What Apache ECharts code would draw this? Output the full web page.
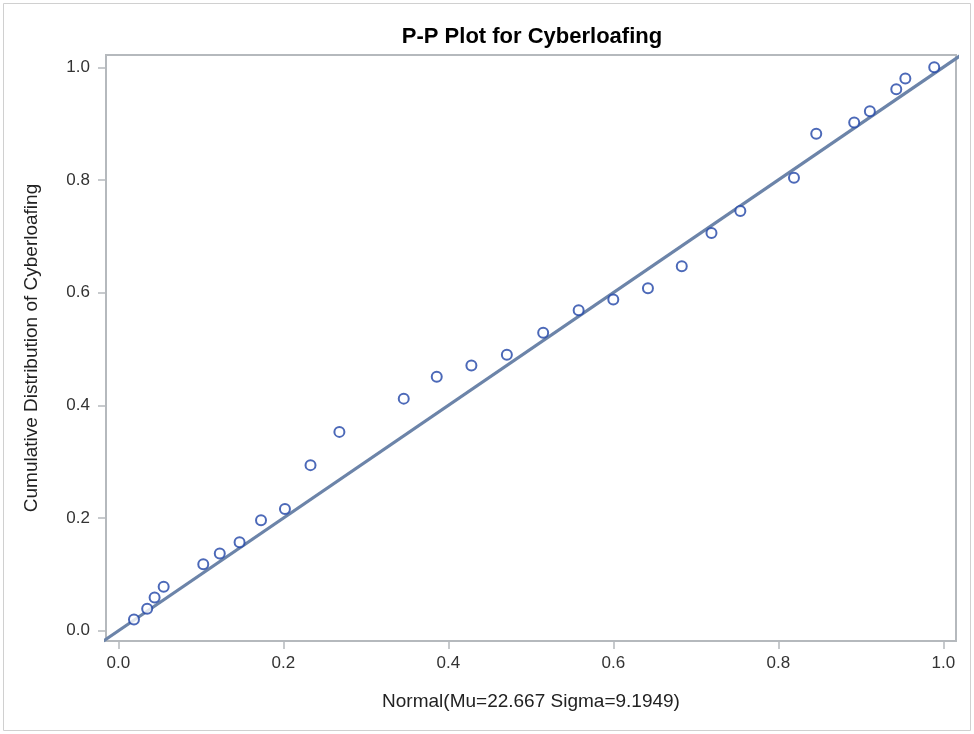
<!DOCTYPE html>
<html>
<head>
<meta charset="utf-8">
<title>P-P Plot for Cyberloafing</title>
<script src="https://cdn.jsdelivr.net/npm/echarts@6/dist/echarts.min.js"></script>
<style>
  html, body { margin: 0; padding: 0; background: #ffffff; }
  #chart { width: 974px; height: 734px; }
</style>
</head>
<body>
<div id="chart"></div>
<script>
// Theoretical normal CDF values (horizontal) and empirical CDF values (vertical)
const normalCdf = [
  0.019, 0.035, 0.044, 0.055, 0.103, 0.123, 0.147, 0.173, 0.202, 0.233,
  0.268, 0.346, 0.386, 0.428, 0.471, 0.515, 0.558, 0.600, 0.642, 0.683,
  0.719, 0.754, 0.819, 0.846, 0.892, 0.911, 0.943, 0.954, 0.989
];
const empiricalCdf = [
  0.020, 0.039, 0.059, 0.078, 0.118, 0.137, 0.157, 0.196, 0.216, 0.294,
  0.353, 0.412, 0.451, 0.471, 0.490, 0.529, 0.569, 0.588, 0.608, 0.647,
  0.706, 0.745, 0.804, 0.882, 0.902, 0.922, 0.961, 0.980, 1.000
];
// Reference diagonal y = x
const diagonal = [-0.05, 1.05];
// Axis tick values
const tickValues = [0.0, 0.2, 0.4, 0.6, 0.8, 1.0];

const points = normalCdf.map((x, i) => [x, empiricalCdf[i]]);
const diagLine = diagonal.map(v => [v, v]);

const chart = echarts.init(document.getElementById('chart'), null, { renderer: 'canvas' });

const FONT = '"Liberation Sans", Arial, sans-serif';
const frameColor = '#b5b9bd';

chart.setOption({
  backgroundColor: '#ffffff',
  animation: false,
  title: {
    text: 'P-P Plot for Cyberloafing',
    left: 527,
    top: 21,
    textAlign: 'center',
    textStyle: { fontFamily: FONT, fontSize: 22, fontWeight: 'bold', color: '#000000' }
  },
  graphic: [{
    type: 'rect',
    shape: { x: 3.5, y: 3.5, width: 967, height: 727 },
    style: { fill: 'none', stroke: '#d0d0d0', lineWidth: 1 },
    silent: true,
    z: -1
  }],
  grid: {
    left: 106, right: 18, top: 55, bottom: 93,
    show: true,
    borderColor: frameColor,
    borderWidth: 2,
    backgroundColor: '#ffffff'
  },
  xAxis: {
    type: 'value',
    min: -0.0149,
    max: 1.0154,
    name: 'Normal(Mu=22.667 Sigma=9.1949)',
    nameLocation: 'middle',
    nameGap: 51,
    nameTextStyle: { fontFamily: FONT, fontSize: 19, color: '#222222' },
    axisLine: { show: false, onZero: false },
    axisTick: { show: true, length: 8, customValues: tickValues, lineStyle: { color: frameColor, width: 1.5 } },
    axisLabel: {
      customValues: tickValues,
      margin: 14,
      fontFamily: FONT, fontSize: 17, color: '#333333',
      formatter: v => v.toFixed(1)
    },
    splitLine: { show: false }
  },
  yAxis: {
    type: 'value',
    min: -0.0181,
    max: 1.0218,
    name: 'Cumulative Distribution of Cyberloafing',
    nameLocation: 'middle',
    nameGap: 65,
    nameRotate: 90,
    nameTextStyle: { fontFamily: FONT, fontSize: 19, color: '#222222' },
    axisLine: { show: false, onZero: false },
    axisTick: { show: true, length: 8, customValues: tickValues, lineStyle: { color: frameColor, width: 1.5 } },
    axisLabel: {
      customValues: tickValues,
      margin: 16,
      fontFamily: FONT, fontSize: 17, color: '#333333',
      formatter: v => v.toFixed(1)
    },
    splitLine: { show: false }
  },
  series: [
    {
      name: 'Reference',
      type: 'line',
      data: diagLine,
      symbol: 'none',
      clip: true,
      lineStyle: { color: '#6c84a9', width: 3.2 },
      z: 2
    },
    {
      name: 'Cyberloafing',
      type: 'scatter',
      data: points,
      symbol: 'emptyCircle',
      symbolSize: 10,
      itemStyle: { color: '#1f43a6', borderWidth: 1.8 },
      z: 3
    }
  ]
});
</script>
</body>
</html>
